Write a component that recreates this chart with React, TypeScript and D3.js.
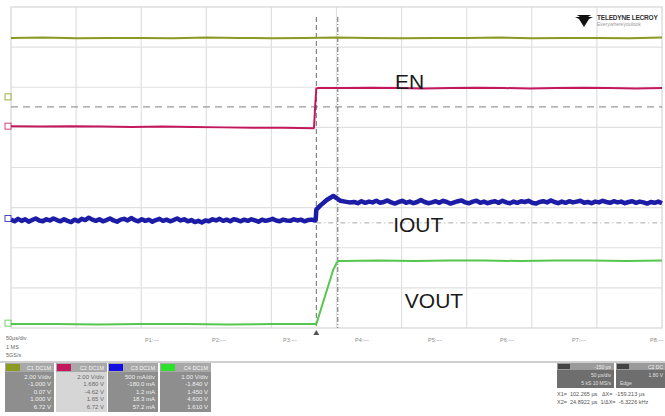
import React from "react";
import * as d3 from "d3";

// ---------- data (divisions: x 0..10, y 0..8 from bottom) ----------
const oliveValues = [7.23, 7.24, 7.22, 7.23, 7.23, 7.22, 7.24, 7.23, 7.22, 7.23, 7.24, 7.23, 7.22, 7.23, 7.23, 7.24, 7.22, 7.23, 7.23, 7.22, 7.24];

const enPreValues = [5.03, 5.02, 5.03, 5.02, 5.01, 5.02, 5.01, 5.0, 4.99, 4.99, 4.98];
const enEdgeTimes = [4.655, 4.675, 4.69];
const enEdgeValues = [5.0, 5.6, 5.97];
const enPostValues = [5.98, 5.98, 5.99, 5.98, 5.97, 5.98, 5.99, 5.98, 5.97, 5.98, 5.99, 5.98, 5.97, 5.98];

const ioutPreValues = [
  2.7, 2.66, 2.72, 2.67, 2.71, 2.65, 2.69, 2.73, 2.68, 2.66, 2.71, 2.68, 2.73, 2.69, 2.66, 2.71,
  2.67, 2.64, 2.7, 2.66, 2.72, 2.69, 2.75, 2.7, 2.67, 2.71, 2.66, 2.69, 2.73, 2.68, 2.65, 2.7,
  2.72, 2.68, 2.74, 2.69, 2.66, 2.71, 2.67, 2.7, 2.65, 2.69, 2.72, 2.67, 2.7, 2.66, 2.69, 2.73,
  2.68, 2.71, 2.66, 2.69, 2.64, 2.67, 2.63, 2.68, 2.66, 2.71, 2.68, 2.72, 2.67, 2.7, 2.66, 2.71,
  2.69, 2.66, 2.7, 2.67, 2.71, 2.68, 2.65, 2.7, 2.67, 2.69, 2.72, 2.68, 2.66, 2.7, 2.68, 2.67,
  2.71, 2.68, 2.7, 2.66, 2.69, 2.7, 2.68,
];
const ioutEdgeTimes = [4.68, 4.69, 4.75, 4.85, 4.95, 5.0, 5.06, 5.13, 5.2];
const ioutEdgeValues = [2.69, 2.95, 3.05, 3.19, 3.29, 3.24, 3.17, 3.15, 3.13];
const ioutPostValues = [
  3.14, 3.11, 3.16, 3.12, 3.15, 3.13, 3.17, 3.12, 3.14, 3.18, 3.13, 3.1, 3.14, 3.17, 3.12, 3.15,
  3.11, 3.14, 3.19, 3.14, 3.11, 3.13, 3.16, 3.12, 3.17, 3.14, 3.1, 3.13, 3.16, 3.18, 3.13, 3.11,
  3.15, 3.17, 3.12, 3.15, 3.11, 3.14, 3.16, 3.12, 3.17, 3.13, 3.11, 3.15, 3.12, 3.16, 3.14, 3.17,
  3.12, 3.1, 3.14, 3.16, 3.13, 3.18, 3.14, 3.11, 3.15, 3.12, 3.16, 3.13, 3.15, 3.17, 3.12, 3.14,
  3.11, 3.15, 3.13, 3.17, 3.14, 3.12, 3.16, 3.13, 3.15, 3.11, 3.14, 3.16, 3.12, 3.15, 3.13, 3.1,
  3.14, 3.12, 3.15, 3.11,
];

const voutPreValues = [0.1, 0.1, 0.09, 0.1, 0.1, 0.09, 0.1, 0.1];
const voutEdgeTimes = [4.69, 4.95, 5.0, 5.03];
const voutEdgeValues = [0.1, 1.45, 1.62, 1.67];
const voutPostValues = [1.67, 1.68, 1.67, 1.68, 1.68, 1.67, 1.68, 1.68, 1.67, 1.68];

const cursorTimes = [4.69, 5.02];
const refLevel = 5.51;
const ioutRefLevel = 2.62;

const traceLabels = ["EN", "IOUT", "VOUT"];
const paramLabels = ["P1:---", "P2:---", "P3:---", "P4:---", "P5:---", "P6:---", "P7:---", "P8:---"];
const timebaseLines = ["50µs/div", "1 MS", "5GS/s"];

const channelHeaders = ["C1 DC1M", "C2 DC1M", "C3 DC1M", "C4 DC1M"];
const channelLines = [
  ["2.00 V/div", "-1.000 V", "0.07 V", "1.000 V", "6.72 V"],
  ["2.00 V/div", "1.680 V", "-4.62 V", "1.65 V", "6.72 V"],
  ["500 mA/div", "-180.0 mA", "1.2 mA", "18.3 mA", "57.2 mA"],
  ["1.00 V/div", "-1.840 V", "1.450 V", "4.600 V", "1.610 V"],
];
const cursorReadout = ["X1=  102.265 µs   ΔX=  -159.213 µs", "X2=  24.8922 µs  1/ΔX=  -6.3226 kHz"];

// ---------- layout ----------
const W = 665;
const H = 416;
const X0 = 11;
const X1 = 662;
const Y0 = 7;
const Y1 = 328;

const COL = {
  olive: "#8a9a22",
  magenta: "#c4185e",
  blue: "#1c1ca6",
  green: "#56c64e",
};

const x = d3.scaleLinear().domain([0, 10]).range([X0, X1]);
const y = d3.scaleLinear().domain([0, 8]).range([Y1, Y0]);

const spread = (vals: number[], t0: number, t1: number): [number, number][] =>
  vals.map((v, i) => [t0 + ((t1 - t0) * i) / (vals.length - 1), v]);
const zipPts = (ts: number[], vs: number[]): [number, number][] => ts.map((t, i) => [t, vs[i]]);

const line = d3
  .line<[number, number]>()
  .x((d) => x(d[0]))
  .y((d) => y(d[1]));

const olivePts = spread(oliveValues, 0, 10);
const enPts = [...spread(enPreValues, 0, 4.65), ...zipPts(enEdgeTimes, enEdgeValues), ...spread(enPostValues, 4.72, 10)];
const ioutPts = [...spread(ioutPreValues, 0, 4.67), ...zipPts(ioutEdgeTimes, ioutEdgeValues), ...spread(ioutPostValues, 5.27, 10)];
const voutPts = [...spread(voutPreValues, 0, 4.68), ...zipPts(voutEdgeTimes, voutEdgeValues), ...spread(voutPostValues, 5.1, 10)];

const FONT = "'Liberation Sans', Arial, sans-serif";

function ChannelBox({ x0, w, color, header, lines, light }: any) {
  const top = 363;
  return (
    <g>
      <rect x={x0} y={top} width={w} height={49} fill={light ? "#d6d6d6" : "#8e8e8e"} />
      <rect x={x0} y={top} width={w} height={9} fill="#a8a8a8" />
      <rect x={x0 + 1} y={top + 1} width={14} height={7} fill={color} />
      <text x={x0 + w - 3} y={top + 7} fontSize={5.5} fill="#f4f4f4" textAnchor="end" fontFamily={FONT}>
        {header}
      </text>
      {lines.map((s: string, i: number) => (
        <text
          key={i}
          x={x0 + w - 3}
          y={top + 15.5 + i * 7.6}
          fontSize={6}
          fill={light ? "#6a6a6a" : "#f0f0f0"}
          textAnchor="end"
          fontFamily={FONT}
        >
          {s}
        </text>
      ))}
    </g>
  );
}

export default function App() {
  const vGrid = d3.range(1, 10);
  const hGrid = d3.range(1, 8);
  const labelPos = [
    { t: 5.9, base: 89 },
    { t: 5.87, base: 232 },
    { t: 6.05, base: 308 },
  ];
  const paramX = [145, 212, 283, 355, 428, 500, 572, 650];
  return (
    <div style={{ position: "absolute", left: 0, top: 0 }}>
      <svg width={W} height={H} style={{ display: "block", background: "#fff" }}>
        {/* grid */}
        {vGrid.map((g) => (
          <line key={"v" + g} x1={x(g)} x2={x(g)} y1={Y0} y2={Y1} stroke="#e0e0e0" strokeWidth={1.2} />
        ))}
        {hGrid.map((g) => (
          <line key={"h" + g} x1={X0} x2={X1} y1={y(g)} y2={y(g)} stroke="#e0e0e0" strokeWidth={1.2} />
        ))}
        <rect x={X0} y={Y0} width={X1 - X0} height={Y1 - Y0} fill="none" stroke="#d6d6d6" strokeWidth={1.2} />

        {/* reference levels */}
        <line x1={X0} x2={X1} y1={y(refLevel)} y2={y(refLevel)} stroke="#9a9a9a" strokeWidth={1.2} strokeDasharray="7,5" />
        <line
          x1={x(cursorTimes[0])}
          x2={X1}
          y1={y(ioutRefLevel)}
          y2={y(ioutRefLevel)}
          stroke="#a8a8a8"
          strokeWidth={1}
          strokeDasharray="5,3,1,3"
        />

        {/* cursors */}
        <line x1={x(cursorTimes[0])} x2={x(cursorTimes[0])} y1={Y0 + 10} y2={Y1} stroke="#6a6a6a" strokeWidth={1} strokeDasharray="5,3" />
        <line x1={x(cursorTimes[1])} x2={x(cursorTimes[1])} y1={Y0 + 10} y2={Y1} stroke="#6a6a6a" strokeWidth={1} strokeDasharray="5,2,1,2" />

        {/* traces */}
        <path d={line(olivePts) || ""} fill="none" stroke={COL.olive} strokeWidth={2} />
        <path d={line(enPts) || ""} fill="none" stroke={COL.magenta} strokeWidth={2} />
        <path d={line(voutPts) || ""} fill="none" stroke={COL.green} strokeWidth={2} />
        <path d={line(ioutPts) || ""} fill="none" stroke={COL.blue} strokeWidth={4.5} strokeLinejoin="round" />

        {/* channel markers */}
        {[
          { v: 5.76, c: COL.olive },
          { v: 5.03, c: COL.magenta },
          { v: 2.73, c: COL.blue },
          { v: 0.12, c: COL.green },
        ].map((m, i) => (
          <rect key={i} x={5} y={y(m.v) - 3} width={6} height={6} fill="#fff" stroke={m.c} strokeWidth={1} opacity={0.8} />
        ))}

        {/* trace labels */}
        {traceLabels.map((s, i) => (
          <text key={s} x={x(labelPos[i].t)} y={labelPos[i].base} fontSize={21} fill="#1a1a1a" fontFamily={FONT}>
            {s}
          </text>
        ))}

        {/* logo */}
        <g>
          <path d="M575,17 L593,17 L589,19 L584,27 L579,19 Z" fill="#111" />
          <path d="M577,15 L591,15 L588,17 L580,17 Z" fill="#111" />
          <text x={597} y={20} fontSize={6.5} fontWeight="bold" fill="#333" fontFamily={FONT} letterSpacing={-0.2}>
            TELEDYNE LECROY
          </text>
          <text x={597} y={26} fontSize={5} fill="#999" fontFamily={FONT}>
            Everywhereyoulook
          </text>
        </g>

        {/* bottom info band */}
        <path d={`M${x(cursorTimes[0]) - 3},335 L${x(cursorTimes[0]) + 3},335 L${x(cursorTimes[0])},330 Z`} fill="#555" />
        {timebaseLines.map((s, i) => (
          <text key={s} x={6} y={340 + i * 8.5} fontSize={5.5} fill="#666" fontFamily={FONT}>
            {s}
          </text>
        ))}
        {paramLabels.map((s, i) => (
          <text key={s} x={paramX[i]} y={342} fontSize={5.5} fill="#888" fontFamily={FONT}>
            {s}
          </text>
        ))}
        <line x1={0} x2={W} y1={362} y2={362} stroke="#cfcfcf" strokeWidth={2} />

        {/* channel boxes */}
        <ChannelBox x0={5} w={49} color={COL.olive} header={channelHeaders[0]} lines={channelLines[0]} />
        <ChannelBox x0={56} w={51} color={COL.magenta} header={channelHeaders[1]} lines={channelLines[1]} light />
        <ChannelBox x0={108} w={50} color="#1010e0" header={channelHeaders[2]} lines={channelLines[2]} />
        <ChannelBox x0={160} w={51} color="#2ce02c" header={channelHeaders[3]} lines={channelLines[3]} />

        {/* timebase / trigger boxes */}
        <g>
          <rect x={557} y={363} width={57} height={25} fill="#6e6e6e" />
          <rect x={557} y={363} width={57} height={7} fill="#9a9a9a" />
          <rect x={558} y={364} width={12} height={5} fill="#444" />
          <text x={611} y={369} fontSize={5} fill="#f0f0f0" textAnchor="end" fontFamily={FONT}>-150 µs</text>
          <text x={611} y={377} fontSize={5} fill="#e0e0e0" textAnchor="end" fontFamily={FONT}>50 µs/div</text>
          <text x={611} y={385} fontSize={5} fill="#e0e0e0" textAnchor="end" fontFamily={FONT}>5 kS  10 MS/s</text>
          <rect x={616} y={363} width={49} height={25} fill="#6e6e6e" />
          <rect x={616} y={363} width={49} height={7} fill="#9a9a9a" />
          <rect x={617} y={364} width={12} height={5} fill="#444" />
          <text x={663} y={369} fontSize={5} fill="#f0f0f0" textAnchor="end" fontFamily={FONT}>C2 DC</text>
          <text x={663} y={377} fontSize={5} fill="#e0e0e0" textAnchor="end" fontFamily={FONT}>1.80 V</text>
          <text x={620} y={385} fontSize={5} fill="#e0e0e0" fontFamily={FONT}>Edge</text>
        </g>
        {cursorReadout.map((s, i) => (
          <text key={i} x={557} y={396 + i * 8} fontSize={5.5} fill="#555" fontFamily={FONT} style={{ whiteSpace: "pre" }}>
            {s}
          </text>
        ))}
      </svg>
    </div>
  );
}
